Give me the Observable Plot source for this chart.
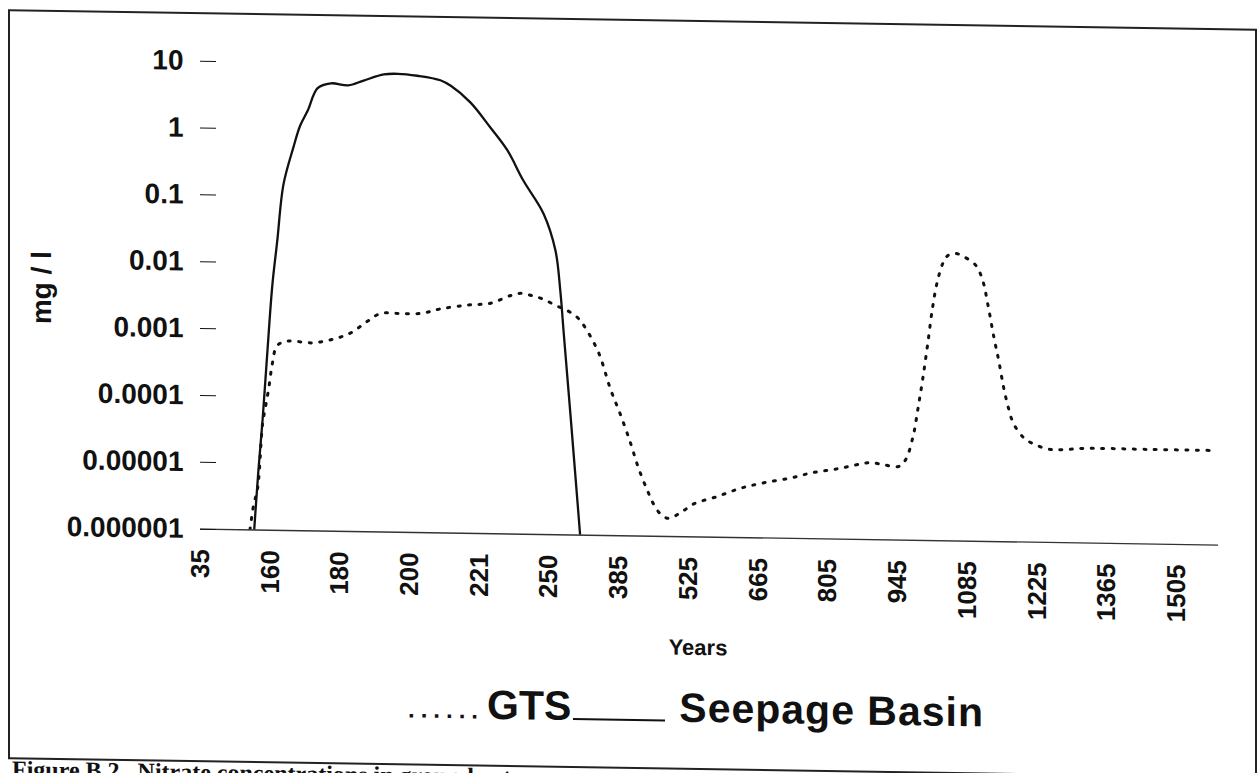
<!DOCTYPE html>
<html><head><meta charset="utf-8">
<script src="https://cdn.jsdelivr.net/npm/d3@7"></script>
<script src="https://cdn.jsdelivr.net/npm/@observablehq/plot@0.6"></script>
<style>
html,body{margin:0;padding:0;background:#fff;overflow:hidden;}
#page{position:relative;width:1258px;height:773px;transform:skewY(0.9deg);transform-origin:0 0;font-family:"Liberation Sans",Arial,sans-serif;color:#111;}
#frame{position:absolute;left:8px;top:9px;width:1249px;height:750px;border:2px solid #222;box-sizing:border-box;}
#chart{position:absolute;left:0;top:0;}
#ylab{position:absolute;left:42px;top:287px;transform:translate(-50%,-50%) rotate(-90deg);font-size:28px;font-weight:bold;white-space:nowrap;line-height:1;}
#xlab{position:absolute;left:698px;top:626px;transform:translateX(-50%);font-size:22px;font-weight:bold;line-height:1;white-space:nowrap;}
#legend{position:absolute;left:408px;top:677px;font-size:41px;font-weight:bold;line-height:41px;white-space:nowrap;}
#legend .dots{font-size:24px;font-weight:bold;letter-spacing:6px;}
#legend .gts{margin-left:3px;}
#legend .solid{display:inline-block;width:92px;height:0;border-bottom:2.5px solid #111;margin:0 14px 0 2px;vertical-align:baseline;}
#legend .sb{letter-spacing:1px;}
#caption{position:absolute;left:12px;top:757px;font-family:"Liberation Serif","Times New Roman",serif;font-weight:bold;font-size:24px;line-height:1;white-space:nowrap;}
</style></head>
<body>
<div id="page">
  <div id="frame"></div>
  <div id="chart"></div>
  <div id="ylab">mg / l</div>
  <div id="xlab">Years</div>
  <div id="legend"><span class="dots">......</span><span class="gts">GTS</span><span class="solid"></span><span class="sb">Seepage Basin</span></div>
  <div id="caption">Figure B.2.&nbsp; Nitrate concentrations in groundwater</div>
</div>
<script>
// Category tick labels of the x axis (equally spaced categories)
const xLabels = ["35","160","180","200","221","250","385","525","665","805","945","1085","1225","1365","1505"];
// Log-scale y ticks and their labels
const yTicks = [10, 1, 0.1, 0.01, 0.001, 0.0001, 0.00001, 0.000001];
const yLabels = ["10","1","0.1","0.01","0.001","0.0001","0.00001","0.000001"];

// GTS series: position along the category axis (label index) and concentration (mg/l)
const gtsPos = [0.69,0.76,0.82,0.89,0.93,0.98,1.03,1.10,1.25,1.61,1.91,2.15,2.40,2.58,2.87,3.16,3.44,3.83,4.16,4.45,4.59,4.76,4.92,5.09,5.27,5.41,5.52,5.71,5.88,6.03,6.17,6.28,6.41,6.50,6.60,6.71,6.89,7.07,7.42,7.75,8.08,8.46,8.79,9.14,9.47,9.61,9.80,10.01,10.11,10.22,10.29,10.36,10.43,10.50,10.57,10.65,10.72,10.83,10.95,11.12,11.22,11.29,11.38,11.45,11.52,11.59,11.66,11.81,11.95,12.15,12.34,12.67,13.63,14.52];
const gtsValue = [7e-7,2.3e-6,4.3e-6,3.9e-5,6.8e-5,1.35e-4,3.1e-4,5.8e-4,6.8e-4,6.5e-4,7.5e-4,9.3e-4,1.42e-3,1.85e-3,1.87e-3,1.9e-3,2.24e-3,2.6e-3,2.8e-3,3.7e-3,4.0e-3,3.7e-3,3.3e-3,2.7e-3,2.24e-3,1.78e-3,1.26e-3,5.4e-4,1.55e-4,6.2e-5,2.4e-5,1.05e-5,4.8e-6,3.0e-6,2.15e-6,1.87e-6,2.3e-6,3.1e-6,4.1e-6,5.5e-6,6.7e-6,8.0e-6,9.8e-6,1.13e-5,1.35e-5,1.42e-5,1.33e-5,1.26e-5,1.58e-5,3.6e-5,9.4e-5,2.7e-4,8.8e-4,3.1e-3,7.7e-3,0.0144,0.0186,0.020,0.0179,0.0134,7.9e-3,3.6e-3,1.12e-3,5.0e-4,2.0e-4,9.8e-5,5.9e-5,3.6e-5,2.95e-5,2.5e-5,2.45e-5,2.6e-5,2.6e-5,2.6e-5];

// Seepage Basin series
const basinPos = [0.76,0.83,0.89,0.96,1.03,1.10,1.19,1.33,1.43,1.54,1.68,1.87,2.12,2.34,2.63,2.83,3.11,3.44,3.59,3.87,4.16,4.40,4.63,4.92,5.09,5.16,5.21,5.31,5.45];
const basinValue = [7e-7,7.7e-6,4.4e-5,4.8e-4,4.6e-3,0.021,0.15,0.53,1.15,1.95,4.2,5.0,4.7,5.6,7.0,7.2,6.8,5.9,4.9,2.8,1.18,0.55,0.195,0.063,0.018,0.0045,0.00102,5.6e-5,8.5e-7];

const gts = gtsPos.map((p, i) => ({pos: p, v: gtsValue[i]}));
const basin = basinPos.map((p, i) => ({pos: p, v: basinValue[i]}));
const xIdx = xLabels.map((_, i) => i);

const chart = Plot.plot({
  width: 1258,
  height: 612,
  marginLeft: 200,
  marginRight: 40,
  marginTop: 57.5,
  marginBottom: 86.5,
  style: {background: "transparent", fontFamily: "'Liberation Sans', Arial, sans-serif", color: "#111", overflow: "visible"},
  x: {type: "linear", domain: [0, 14.6], axis: null},
  y: {type: "log", domain: [1e-6, 10], axis: null},
  marks: [
    Plot.ruleY([yTicks[yTicks.length - 1]], {stroke: "#333", strokeWidth: 1.3}),
    Plot.axisY(yTicks, {anchor: "left", tickSize: -16, tickPadding: 33, tickFormat: d => yLabels[yTicks.indexOf(d)], fontSize: 28, fontWeight: "bold", label: null}),
    Plot.axisX(xIdx, {anchor: "bottom", tickSize: 0, tickPadding: 20, tickRotate: -90, tickFormat: d => xLabels[d], fontSize: 26, fontWeight: "bold", label: null}),
    Plot.line(basin, {x: "pos", y: "v", curve: "catmull-rom", stroke: "#111", strokeWidth: 2.3, clip: true}),
    Plot.line(gts, {x: "pos", y: "v", curve: "catmull-rom", stroke: "#111", strokeWidth: 3, strokeDasharray: "2,8.5", strokeLinecap: "round", clip: true})
  ]
});
document.getElementById("chart").appendChild(chart);
</script>
</body></html>
